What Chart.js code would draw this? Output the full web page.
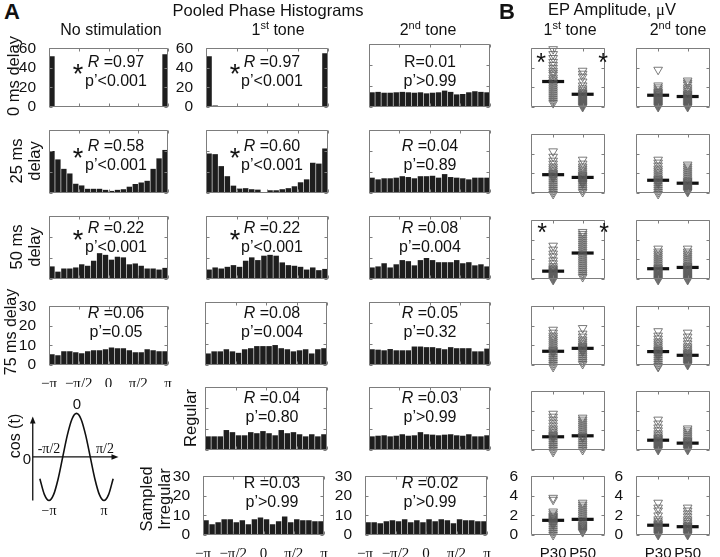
<!DOCTYPE html>
<html><head><meta charset="utf-8">
<script src="https://cdn.jsdelivr.net/npm/chart.js@4"></script>
<style>
body{margin:0;background:#fff;}
#fig{position:relative;width:720px;height:557px;overflow:hidden;font-family:'Liberation Sans',Arial,sans-serif;color:#111;background:#fff;}
canvas{position:absolute;}
.t{position:absolute;white-space:nowrap;transform:translate(-50%,-50%);line-height:1;text-align:center;}
.rot{transform:translate(-50%,-50%) rotate(-90deg);}
.serif{font-family:'Liberation Serif','Times New Roman',serif;}
.sup{position:relative;top:-6px;font-size:11px;}
</style></head><body><div id="fig"></div>
<script>
// ---------------- DATA ----------------
const phaseTickLabels = ['−π','−π/2','0','π/2','π'];
const phaseTicks = [-Math.PI, -Math.PI/2, 0, Math.PI/2, Math.PI];
const nBins = 20;

// Pooled phase histograms (counts per bin, 20 bins from −π to π)
const noStim0   = [52, 1, 0.3, 0.2, 0.2, 0.1, 0.1, 0.1, 0, 0, 0, 0, 0.1, 0.1, 0.2, 0.2, 0.3, 0.4, 1, 54];
const noStim25  = [20, 16, 11.5, 9.3, 4.4, 3.6, 2, 2, 2, 1.5, 1, 1.5, 1.8, 3, 4.3, 5, 5.8, 11.5, 16.5, 20.5];
const noStim50  = [6, 3.5, 5, 5, 5.5, 7, 6.3, 8.7, 12.3, 11.5, 9.2, 10.6, 10.3, 7, 7.4, 6.3, 5, 5, 4.5, 5.3];
const noStim75  = [5.5, 5, 7, 7, 6.5, 6, 7, 7.5, 7.5, 8, 9, 8.5, 8.5, 7.5, 6.5, 6.5, 8, 7.5, 7, 7];
const tone1_0   = [52, 1.5, 0.3, 0.2, 0.2, 0.1, 0.1, 0, 0, 0, 0, 0, 0.1, 0.1, 0.2, 0.2, 0.3, 0.4, 1, 55];
const tone1_25  = [18.8, 18.5, 12.8, 8, 3.5, 2.1, 2.3, 1.8, 1.6, 0.2, 1.3, 1.3, 1.8, 2.3, 3.2, 5.1, 6.5, 14.4, 14, 21.2];
const tone1_50  = [4.5, 5.5, 5, 5.8, 6.6, 5.8, 8.7, 10.3, 9, 11.1, 11.5, 11.1, 7.9, 6.6, 6.3, 5.8, 4.5, 5.5, 4.2, 4.8];
const tone1_75  = [5.5, 6.5, 6.5, 7.5, 6.5, 5.8, 7.5, 8, 9, 9, 9, 9.5, 8, 7.5, 6.5, 7, 7.5, 5.5, 7.5, 8];
const tone1Reg  = [6.5, 6.5, 6.5, 9.5, 8.5, 7, 7, 8.5, 8, 9, 8, 7, 9.5, 8, 8.5, 7.5, 6.5, 7.5, 6.5, 7.5];
const tone1Samp = [7.5, 5.5, 6.5, 8, 8, 6.5, 7.5, 5.5, 8, 9, 8, 5.5, 7, 9.5, 6.5, 8, 7.5, 7.5, 7, 7];
const tone2_0   = [7, 7.2, 6.8, 6.8, 7, 7.2, 7, 6.8, 7, 6.5, 6.8, 7, 7.8, 7.2, 6, 6.2, 7, 7.5, 7.2, 7];
const tone2_25  = [7.3, 6.5, 7, 7, 7.3, 8, 7.6, 7, 8, 8, 8.2, 7.3, 9, 7.6, 7.3, 7, 6.5, 7.3, 7.3, 7.3];
const tone2_50  = [5.5, 6, 7.5, 5.5, 7, 9, 8.5, 6.5, 9, 10, 9, 8, 8, 8, 9, 7.5, 8, 6.5, 7, 6];
const tone2_75  = [7.5, 7.3, 7, 7.6, 7, 7, 7, 8.8, 8.8, 8.5, 8.5, 8, 7.5, 8.5, 8, 8, 8, 6.5, 6.5, 7.8];
const tone2Reg  = [6.5, 6.8, 7, 6.5, 6.8, 7.5, 6.8, 7, 8.5, 7.5, 7.3, 7, 7.3, 7.5, 7, 6.8, 7.5, 6.5, 6.5, 7];
const tone2Samp = [6.5, 6.5, 6, 7, 7.5, 7, 8, 6.5, 7.5, 6.5, 8, 7, 8, 7.5, 6, 8, 7.5, 7.5, 7, 7];

// cos(t) schematic, sampled every π/6 from −4π/3 to 4π/3
const cosPhaseSteps = [-8,-7,-6,-5,-4,-3,-2,-1,0,1,2,3,4,5,6,7,8];
const cosValues = [-0.5,-0.866,-1,-0.866,-0.5,0,0.5,0.866,1,0.866,0.5,0,-0.5,-0.866,-1,-0.866,-0.5];

// EP amplitudes (µV)
const epGroups = ['P30','P50'];
const ep1_0_P30 = [5.9,5.4,5.0,4.6,4.3,4.0,3.7,3.5,3.3,3.0,2.8,2.6,2.4,2.2,2.0,1.8,1.6,1.4,1.2,1.0,0.8,0.6,0.4];
const ep1_0_P50 = [3.7,3.4,3.1,2.6,2.2,1.9,1.7,1.5,1.4,1.3,1.2,1.1,1.0,0.9,0.8,0.7,0.6,0.5,0.4,0.3,0.2,0.1,0.0];
const ep2_0_P30 = [3.8,2.2,2.0,1.8,1.6,1.5,1.4,1.3,1.2,1.1,1.0,0.9,0.8,0.7,0.6,0.5,0.4,0.3,0.2,0.1,0.0];
const ep2_0_P50 = [2.7,2.5,2.3,2.0,1.8,1.6,1.4,1.3,1.2,1.1,1.0,0.9,0.8,0.7,0.6,0.5,0.4,0.3,0.2,0.1,0.0];
const ep1_25_P30 = [4.25,3.7,3.3,3.0,2.7,2.5,2.3,2.1,2.0,1.9,1.8,1.7,1.6,1.5,1.3,1.1,0.9,0.7,0.5,0.3,0.1,-0.1];
const ep1_25_P50 = [3.4,3.0,2.7,2.5,2.3,2.1,1.9,1.8,1.7,1.6,1.5,1.4,1.3,1.2,1.1,1.0,0.9,0.7,0.5,0.3,0.1];
const ep2_25_P30 = [3.4,3.1,2.8,2.5,2.3,2.1,1.9,1.7,1.5,1.4,1.3,1.2,1.1,1.0,0.9,0.7,0.5,0.3,0.1,-0.1];
const ep2_25_P50 = [2.9,2.7,2.5,2.3,2.1,1.9,1.7,1.5,1.3,1.2,1.1,1.0,0.9,0.8,0.7,0.6,0.5,0.4,0.3,0.2,0.1];
const ep1_50_P30 = [3.4,3.0,2.6,2.3,1.9,1.6,1.3,1.1,1.0,0.9,0.8,0.7,0.6,0.5,0.4,0.3,0.2,0.1,0.0,-0.1];
const ep1_50_P50 = [4.8,4.6,4.4,4.2,4.0,3.8,3.6,3.4,3.2,3.0,2.8,2.6,2.4,2.2,2.0,1.8,1.6,1.4,1.2,1.0,0.8,0.6,0.4,0.2];
const ep2_50_P30 = [3.1,2.8,2.6,2.4,2.2,2.0,1.8,1.6,1.4,1.2,1.1,1.0,0.9,0.8,0.7,0.6,0.5,0.4,0.3,0.2,0.1,0.0,-0.1];
const ep2_50_P50 = [3.1,2.8,2.6,2.4,2.2,2.0,1.8,1.6,1.4,1.3,1.2,1.1,1.0,0.9,0.8,0.7,0.6,0.5,0.4,0.3,0.2,0.1,0.0,-0.1];
const ep1_75_P30 = [3.6,3.3,3.0,2.8,2.6,2.4,2.2,2.0,1.8,1.6,1.5,1.4,1.3,1.2,1.0,0.8,0.6,0.4,0.2,0.0,-0.2];
const ep1_75_P50 = [3.77,3.2,2.9,2.6,2.4,2.2,2.0,1.9,1.8,1.7,1.6,1.5,1.4,1.3,1.1,0.9,0.7,0.5,0.3,0.1];
const ep2_75_P30 = [3.45,3.0,2.7,2.4,2.2,2.0,1.8,1.6,1.5,1.4,1.3,1.2,1.1,1.0,0.9,0.7,0.5,0.3,0.1,-0.1,-0.2];
const ep2_75_P50 = [3.3,2.9,2.5,2.2,1.9,1.7,1.5,1.3,1.2,1.1,1.0,0.9,0.8,0.7,0.6,0.5,0.4,0.3,0.2,0.1,0.0];
const ep1_reg_P30 = [3.7,3.4,3.1,2.8,2.5,2.2,2.0,1.8,1.6,1.5,1.4,1.3,1.2,1.0,0.8,0.6,0.4,0.2,0.0,-0.2];
const ep1_reg_P50 = [3.3,3.1,2.9,2.7,2.5,2.3,2.1,1.9,1.7,1.5,1.4,1.3,1.2,1.0,0.8,0.6,0.4,0.2,0.0];
const ep2_reg_P30 = [3.1,2.7,2.3,2.0,1.7,1.5,1.3,1.2,1.1,1.0,0.9,0.8,0.7,0.6,0.5,0.4,0.3,0.2,0.1,0.0];
const ep2_reg_P50 = [2.2,2.0,1.8,1.6,1.4,1.2,1.0,0.9,0.8,0.7,0.6,0.5,0.4,0.3,0.2,0.1,0.0];
const ep1_samp_P30 = [3.8,3.6,2.4,2.2,2.0,1.9,1.8,1.7,1.6,1.5,1.4,1.3,1.2,1.1,1.0,0.8,0.6,0.4,0.2,0.0];
const ep1_samp_P50 = [3.3,3.1,2.9,2.7,2.5,2.3,2.1,1.9,1.7,1.5,1.3,1.1,1.0,0.9,0.8,0.7,0.6,0.5,0.4,0.3];
const ep2_samp_P30 = [3.3,2.8,2.5,2.0,1.6,1.4,1.2,1.1,1.0,0.9,0.8,0.7,0.6,0.5,0.4,0.3,0.2,0.1,0.0];
const ep2_samp_P50 = [2.8,2.5,2.2,1.9,1.6,1.4,1.2,1.0,0.9,0.8,0.7,0.6,0.5,0.4,0.3,0.2,0.1,0.0];
// group means (horizontal bars), P30 then P50
const ep1Means = [[2.6,1.3],[1.87,1.59],[0.8,2.65],[1.4,1.7],[1.35,1.45],[1.5,1.6]];
const ep2Means = [[1.2,1.07],[1.3,1.0],[1.05,1.18],[1.37,0.99],[1.0,0.7],[1.0,0.85]];

// ---------------- LAYOUT ----------------
const fig = document.getElementById('fig');
Chart.defaults.font.family = "'Liberation Sans', Arial, sans-serif";
Chart.defaults.color = '#111';
const SERIF = "'Liberation Serif','Times New Roman',serif";
const M = {L:36, T:10, R:8, B:22};
const rowY = [44,130,216,302,387,472];
const H = 63;
const binCenters = Array.from({length:nBins},(_,i)=> -Math.PI + (i+0.5)*2*Math.PI/nBins);

function addCanvas(box){
  const c = document.createElement('canvas');
  const w = box.w + M.L + M.R, h = box.h + M.T + M.B;
  c.width = w; c.height = h;
  c.style.left = (box.x - M.L)+'px'; c.style.top = (box.y - M.T)+'px';
  c.style.width = w+'px'; c.style.height = h+'px';
  fig.appendChild(c); return c;
}
function T(x,y,html,style,cls){
  const d = document.createElement('div');
  d.className = 't' + (cls? ' '+cls : '');
  d.style.left = x+'px'; d.style.top = y+'px';
  d.style.cssText += ';'+(style||'');
  d.innerHTML = html; fig.appendChild(d); return d;
}

const boxPlugin = {id:'boxTicks', afterDraw(chart){
  const {ctx, chartArea:a, scales} = chart;
  const l = Math.round(a.left)+0.5, t = Math.round(a.top)+0.5, r = Math.round(a.right)-0.5, b = Math.round(a.bottom)-0.5;
  ctx.save();
  ctx.strokeStyle = '#7d7d7d'; ctx.lineWidth = 1;
  ctx.beginPath();
  ctx.rect(l, t, r-l, b-t);
  const L = 3;
  scales.x.ticks.forEach(tk=>{
    const px = Math.round(scales.x.getPixelForValue(tk.value))+0.5;
    ctx.moveTo(px,b); ctx.lineTo(px,b-L); ctx.moveTo(px,t); ctx.lineTo(px,t+L);
  });
  scales.y.ticks.forEach(tk=>{
    const py = Math.round(scales.y.getPixelForValue(tk.value))+0.5;
    ctx.moveTo(l,py); ctx.lineTo(l+L,py); ctx.moveTo(r,py); ctx.lineTo(r-L,py);
  });
  ctx.stroke(); ctx.restore();
}};

function baseOptions(){
  return {responsive:false, animation:false, events:[],
    layout:{padding:{top:M.T,right:M.R,left:0,bottom:0}},
    plugins:{legend:{display:false}, tooltip:{enabled:false}}};
}

function histChart(box, values, yMax, showY, showX){
  const c = addCanvas(box);
  const opt = baseOptions();
  opt.scales = {
    x:{type:'linear', min:-Math.PI, max:Math.PI, offset:false,
       grid:{display:false}, border:{display:false},
       afterBuildTicks: s=>{ s.ticks = phaseTicks.map(v=>({value:v})); },
       ticks:{display:showX, autoSkip:false, maxRotation:0, padding:2, color:'#111',
              font:{family:SERIF, size:15}, callback:(v,i)=>phaseTickLabels[i]},
       afterFit: s=>{ s.height = M.B; }},
    y:{min:0, max:yMax, grid:{display:false}, border:{display:false},
       ticks:{display:showY, autoSkip:false, stepSize:yMax/3, padding:5, color:'#111', font:{size:15.5}},
       afterFit: s=>{ s.width = M.L; }}
  };
  return new Chart(c, {type:'bar',
    data:{datasets:[{data: values.map((v,i)=>({x:binCenters[i], y:v})),
      backgroundColor:'#1e1e1e', borderWidth:0, barPercentage:0.9, categoryPercentage:1}]},
    options:opt, plugins:[boxPlugin]});
}

function epChart(box, p30, p50, means, showY, showX){
  const c = addCanvas(box);
  const opt = baseOptions();
  opt.scales = {
    x:{type:'linear', min:0.25, max:2.75, grid:{display:false}, border:{display:false},
       afterBuildTicks: s=>{ s.ticks = epGroups.map((g,i)=>({value:i+1})); },
       ticks:{display:showX, autoSkip:false, maxRotation:0, padding:2, color:'#111', font:{size:15},
              callback:(v,i)=>epGroups[i]},
       afterFit: s=>{ s.height = M.B; }},
    y:{min:0, max:6, grid:{display:false}, border:{display:false},
       ticks:{display:showY, autoSkip:false, stepSize:2, padding:5, color:'#111', font:{size:15.5}},
       afterFit: s=>{ s.width = M.L; }}
  };
  const tri = {pointStyle:'triangle', pointRotation:180, pointRadius:5,
    pointBorderColor:'rgba(90,90,90,0.8)', pointBackgroundColor:'rgba(255,255,255,0)', pointBorderWidth:1, clip:false};
  return new Chart(c, {type:'scatter', data:{datasets:[
      Object.assign({data:p30.map(v=>({x:1,y:v}))}, tri),
      Object.assign({data:p50.map(v=>({x:2,y:v}))}, tri),
      {data:means.map((m,i)=>({x:i+1,y:m})), pointStyle:'line', pointRadius:11,
       pointBorderColor:'#111', pointBorderWidth:3.2, clip:false}
    ]}, options:opt, plugins:[boxPlugin]});
}

// ---------- Panel A histograms ----------
const histPanels = [
  {v:noStim0,  x:49,  w:119, r:0, ymax:60, yl:true,  xl:false},
  {v:noStim25, x:49,  w:119, r:1, ymax:30, yl:false, xl:false},
  {v:noStim50, x:49,  w:119, r:2, ymax:30, yl:false, xl:false},
  {v:noStim75, x:49,  w:119, r:3, ymax:30, yl:true,  xl:true},
  {v:tone1_0,  x:206, w:122, r:0, ymax:60, yl:true,  xl:false},
  {v:tone1_25, x:206, w:122, r:1, ymax:30, yl:false, xl:false},
  {v:tone1_50, x:206, w:122, r:2, ymax:30, yl:false, xl:false},
  {v:tone1_75, x:205, w:122, r:3, ymax:30, yl:false, xl:false},
  {v:tone1Reg, x:205, w:122, r:4, ymax:30, yl:false, xl:false},
  {v:tone1Samp,x:203, w:121, r:5, ymax:30, yl:true,  xl:true},
  {v:tone2_0,  x:369, w:121, r:0, ymax:30, yl:false, xl:false},
  {v:tone2_25, x:369, w:121, r:1, ymax:30, yl:false, xl:false},
  {v:tone2_50, x:369, w:121, r:2, ymax:30, yl:false, xl:false},
  {v:tone2_75, x:369, w:121, r:3, ymax:30, yl:false, xl:false},
  {v:tone2Reg, x:369, w:121, r:4, ymax:30, yl:false, xl:false},
  {v:tone2Samp,x:365, w:122, r:5, ymax:30, yl:true,  xl:true}
];
histPanels.forEach(p=> histChart({x:p.x, y:rowY[p.r], w:p.w, h:H}, p.v, p.ymax, p.yl, p.xl));

// ---------- Panel B EP amplitude ----------
const ep1 = [[ep1_0_P30,ep1_0_P50],[ep1_25_P30,ep1_25_P50],[ep1_50_P30,ep1_50_P50],[ep1_75_P30,ep1_75_P50],[ep1_reg_P30,ep1_reg_P50],[ep1_samp_P30,ep1_samp_P50]];
const ep2 = [[ep2_0_P30,ep2_0_P50],[ep2_25_P30,ep2_25_P50],[ep2_50_P30,ep2_50_P50],[ep2_75_P30,ep2_75_P50],[ep2_reg_P30,ep2_reg_P50],[ep2_samp_P30,ep2_samp_P50]];
for(let r=0;r<6;r++){
  const last = r===5;
  epChart({x:531, y:rowY[r], w:80, h:H}, ep1[r][0], ep1[r][1], ep1Means[r], last, last);
  epChart({x:636, y:rowY[r], w:80, h:H}, ep2[r][0], ep2[r][1], ep2Means[r], last, last);
}

// ---------- cos(t) schematic ----------
(function(){
  const c = document.createElement('canvas');
  c.width = 110; c.height = 130; c.style.left='20px'; c.style.top='390px';
  c.style.width='110px'; c.style.height='130px'; fig.appendChild(c);
  const axesPlugin = {id:'cosAxes', afterDraw(chart){
    const {ctx, scales:{x,y}} = chart;
    const x0 = x.getPixelForValue(-5), yb = y.getPixelForValue(-1), yt = y.getPixelForValue(0.93);
    const yz = y.getPixelForValue(0), xr = x.getPixelForValue(4.8);
    ctx.save(); ctx.strokeStyle='#111'; ctx.fillStyle='#111'; ctx.lineWidth=1.3;
    ctx.beginPath(); ctx.moveTo(x0,yb); ctx.lineTo(x0,yt+4); ctx.moveTo(x0,yz); ctx.lineTo(xr-5,yz); ctx.stroke();
    ctx.beginPath(); ctx.moveTo(x0,yt); ctx.lineTo(x0-2.8,yt+7); ctx.lineTo(x0+2.8,yt+7); ctx.closePath(); ctx.fill();
    ctx.beginPath(); ctx.moveTo(xr,yz); ctx.lineTo(xr-7,yz-2.8); ctx.lineTo(xr-7,yz+2.8); ctx.closePath(); ctx.fill();
    ctx.restore();
  }};
  new Chart(c, {type:'line',
    data:{datasets:[{data: cosPhaseSteps.map((k,i)=>({x:k*Math.PI/6, y:cosValues[i]})),
      borderColor:'#111', borderWidth:1.6, pointRadius:0, cubicInterpolationMode:'monotone', clip:false}]},
    options:{responsive:false, animation:false, events:[],
      layout:{padding:{left:12.75, right:11.5, top:19, bottom:17.3}},
      plugins:{legend:{display:false}, tooltip:{enabled:false}},
      scales:{x:{type:'linear', min:-5, max:4.8, display:false}, y:{min:-1.05, max:1.1, display:false}}},
    plugins:[axesPlugin]});
})();

// ---------- Text ----------
T(12,12,'A','font-size:22px;font-weight:bold');
T(507,12,'B','font-size:22px;font-weight:bold');
T(268,10,'Pooled Phase Histograms','font-size:16.5px');
T(612,10,'EP Amplitude, <span class="serif">μ</span>V','font-size:16.5px');
const SUP = s=>'<span class="sup">'+s+'</span>';
T(111,30,'No stimulation','font-size:16px');
T(278,30,'1'+SUP('st')+' tone','font-size:16px');
T(428,30,'2'+SUP('nd')+' tone','font-size:16px');
T(570,30,'1'+SUP('st')+' tone','font-size:16px');
T(678,30,'2'+SUP('nd')+' tone','font-size:16px');

T(13,76,'0 ms delay','font-size:16.5px','rot');
T(25,161,'25 ms<br>delay','font-size:16.5px;line-height:18px','rot');
T(25,247,'50 ms<br>delay','font-size:16.5px;line-height:18px','rot');
T(11,332,'75 ms delay','font-size:16px','rot');
T(190,418,'Regular','font-size:16.5px','rot');
T(155,499,'Sampled<br>Irregular','font-size:16.5px;line-height:18px','rot');

// stats annotations: [column, row, line1, line2, star]
const colTextX = [116, 272, 430];
const stats = [
  [0,0,'<i>R</i> =0.97','p’&lt;0.001',true],
  [1,0,'<i>R</i> =0.97','p’&lt;0.001',true],
  [2,0,'R=0.01','p’&gt;0.99',false],
  [0,1,'<i>R</i> =0.58','p’&lt;0.001',true],
  [1,1,'<i>R</i> =0.60','p’&lt;0.001',true],
  [2,1,'<i>R</i> =0.04','p’=0.89',false],
  [0,2,'<i>R</i> =0.22','p’&lt;0.001',true],
  [1,2,'<i>R</i> =0.22','p’&lt;0.001',true],
  [2,2,'<i>R</i> =0.08','p’=0.004',false],
  [0,3,'<i>R</i> =0.06','p’=0.05',false],
  [1,3,'<i>R</i> =0.08','p’=0.004',false],
  [2,3,'<i>R</i> =0.05','p’=0.32',false],
  [1,4,'<i>R</i> =0.04','p’=0.80',false],
  [2,4,'<i>R</i> =0.03','p’&gt;0.99',false],
  [1,5,'R =0.03','p’&gt;0.99',false],
  [2,5,'<i>R</i> =0.02','p’&gt;0.99',false]
];
const lineOff = [18,16,12,11,11,11];
stats.forEach(([c,r,l1,l2,star])=>{
  const y1 = rowY[r] + lineOff[r];
  T(colTextX[c], y1, l1, 'font-size:16px');
  T(colTextX[c], y1+19, l2, 'font-size:16px');
  if(star) T(c===0?78:235, y1+12, '*', 'font-size:27px');
});
// B asterisks
[[541,57],[603,57],[542,227],[604,227]].forEach(([x,y])=>T(x,y+5,'*','font-size:25px'));

// cos labels
T(77,403,'0','font-size:15px');
T(49,449,'-π/2','font-size:14px','serif');
T(105,449,'π/2','font-size:14px','serif');
T(49,511,'−π','font-size:14px','serif');
T(104,511,'π','font-size:14px','serif');
T(27,458,'0','font-size:15px');
T(15,436,'cos (t)','font-size:16px','rot');
</script></body></html>
